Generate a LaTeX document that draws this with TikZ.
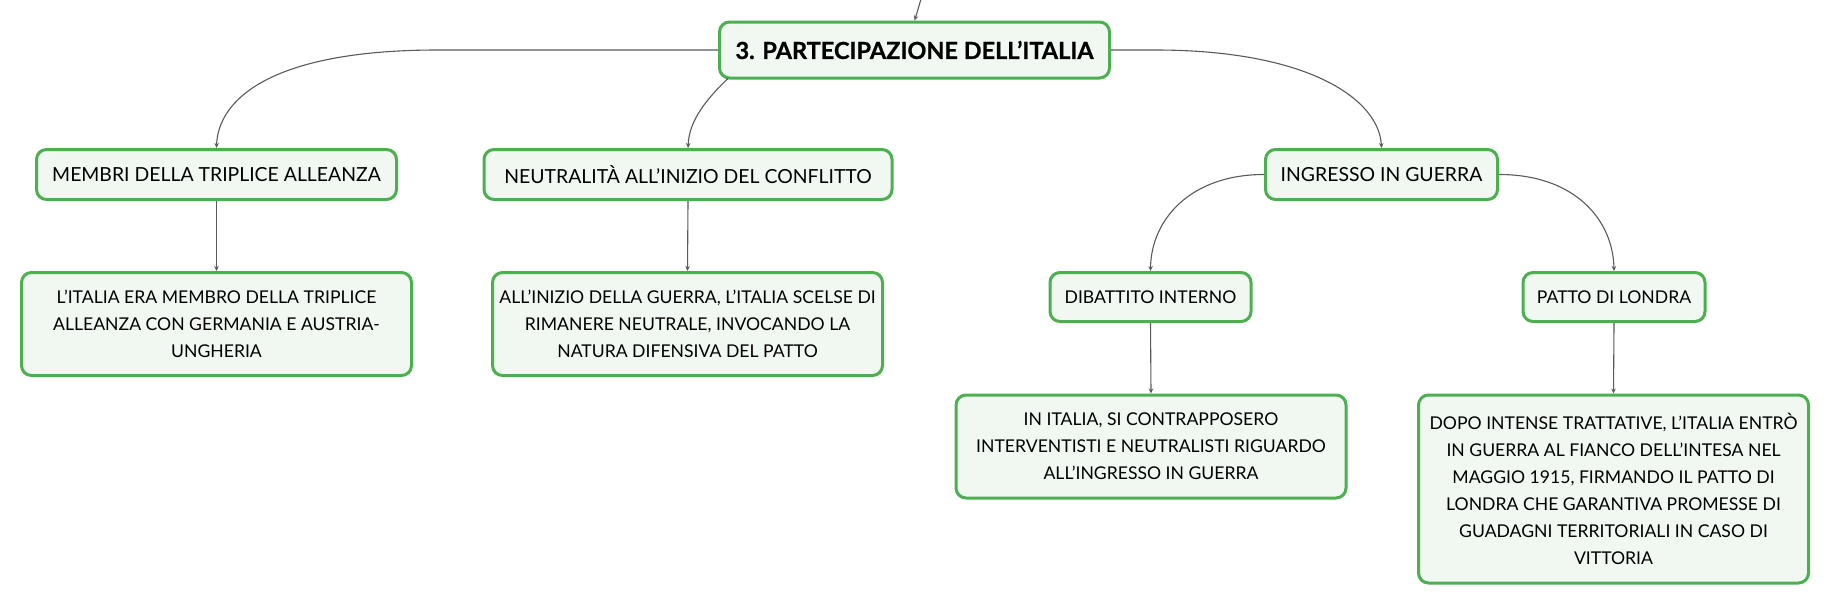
\documentclass[tikz,border=0pt]{standalone}
\usepackage{fontspec}
\setmainfont{Lato}
\newfontfamily\heavyfont{Lato}[BoldFeatures={FakeBold=0.7}]
\usetikzlibrary{arrows.meta}
\definecolor{boxgreen}{RGB}{76,175,80}
\definecolor{boxfill}{RGB}{241,248,242}
\definecolor{linkgray}{RGB}{90,90,90}
\begin{document}
\begin{tikzpicture}[x=1pt,y=-1pt,
  mapbox/.style={draw=boxgreen, fill=boxfill, line width=3pt, rounded corners=10pt,
    align=center, inner sep=0pt, font=\fontsize{17.6}{27}\selectfont},
  bigtext/.style={font=\fontsize{19.4}{27}\selectfont},
  link/.style={draw=linkgray, line width=1.1pt, -{Stealth[length=5pt,width=4.5pt]}}]
\useasboundingbox (0,0) rectangle (1830,605);
\fill[white] (0,0) rectangle (1830,605);

\node[mapbox, minimum width=390, minimum height=56, font=\heavyfont\bfseries\fontsize{23.5}{28}\selectfont] (main) at (914.5,50) {3. PARTECIPAZIONE DELL’ITALIA};

\node[mapbox, bigtext, minimum width=360, minimum height=50] (membri) at (216.5,174.5) {MEMBRI DELLA TRIPLICE ALLEANZA};
\node[mapbox, bigtext, minimum width=408, minimum height=50] (neutr) at (688,174.5) {NEUTRALITÀ ALL’INIZIO DEL CONFLITTO};
\node[mapbox, bigtext, minimum width=232, minimum height=50] (ingr) at (1381.5,174.5) {INGRESSO IN GUERRA};

\node[mapbox, minimum width=390, minimum height=103] (italia) at (216.5,324) {L’ITALIA ERA MEMBRO DELLA TRIPLICE\\ALLEANZA CON GERMANIA E AUSTRIA-\\UNGHERIA};
\node[mapbox, minimum width=390, minimum height=103] (inizio) at (687.5,324) {ALL’INIZIO DELLA GUERRA, L’ITALIA SCELSE DI\\RIMANERE NEUTRALE, INVOCANDO LA\\NATURA DIFENSIVA DEL PATTO};

\node[mapbox, minimum width=201, minimum height=49] (dibatt) at (1150.5,297) {DIBATTITO INTERNO};
\node[mapbox, minimum width=182, minimum height=49] (patto) at (1614,297) {PATTO DI LONDRA};

\node[mapbox, minimum width=390, minimum height=103] (initalia) at (1151,446.5) {IN ITALIA, SI CONTRAPPOSERO\\INTERVENTISTI E NEUTRALISTI RIGUARDO\\ALL’INGRESSO IN GUERRA};
\node[mapbox, minimum width=390, minimum height=188] (dopo) at (1613.5,489) {DOPO INTENSE TRATTATIVE, L’ITALIA ENTRÒ\\IN GUERRA AL FIANCO DELL’INTESA NEL\\MAGGIO 1915, FIRMANDO IL PATTO DI\\LONDRA CHE GARANTIVA PROMESSE DI\\GUADAGNI TERRITORIALI IN CASO DI\\VITTORIA};

\coordinate (topin) at (921,-1);
\coordinate (lbend) at (438,50);
\coordinate (rbend) at (1155,50);

\draw[link] (topin) .. controls (919,8) .. (main.north);
\draw[link] (main.west) -- (lbend) .. controls (270,50) and (218,100) .. (membri.north);
\draw[link] (main.south west) ++(10,-1) .. controls (700,105) and (689,125) .. (neutr.north);
\draw[link] (main.east) -- (rbend) .. controls (1310,50) and (1379,100) .. (ingr.north);
\draw[link] (ingr.west) .. controls (1190,174.5) and (1151,220) .. (dibatt.north);
\draw[link] (ingr.east) .. controls (1575,174.5) and (1613,220) .. (patto.north);

\draw[link] (membri.south) -- (italia.north);
\draw[link] (neutr.south) -- (inizio.north);
\draw[link] (dibatt.south) -- (initalia.north);
\draw[link] (patto.south) -- (dopo.north);
\end{tikzpicture}
\end{document}
